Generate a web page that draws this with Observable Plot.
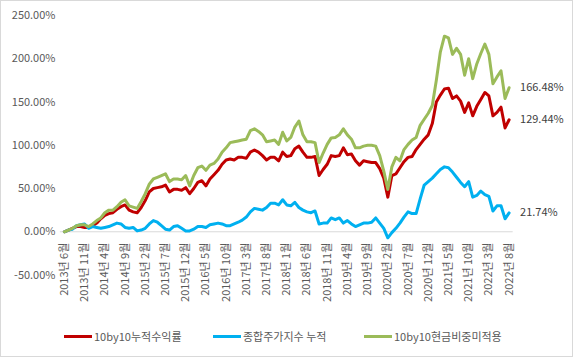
<!DOCTYPE html>
<html>
<head>
<meta charset="utf-8">
<script src="https://cdn.jsdelivr.net/npm/d3@7"></script>
<script src="https://cdn.jsdelivr.net/npm/@observablehq/plot@0.6"></script>
<style>
  body { margin: 0; background: #fff; }
  #chart { position: relative; width: 573px; height: 357px; box-sizing: border-box; border: 1px solid #d9d9d9; font-family: "Noto Sans CJK KR", "Noto Sans", sans-serif; overflow: hidden; }
  #plot { position: absolute; left: -1px; top: -1px; }
  #legend { position: absolute; top: 327px; left: -1px; width: 573px; height: 18px; font-size: 11px; color: #595959; }
  .item { position: absolute; top: 0; display: flex; align-items: center; white-space: nowrap; }
  .sw { display: inline-block; width: 28px; height: 3px; margin-right: 2px; }
</style>
</head>
<body>
<div id="chart">
  <div id="plot"></div>
  <div id="legend"></div>
</div>
<script>
// Series names
const seriesNames = ["10by10누적수익률", "종합주가지수 누적", "10by10현금비중미적용"];
const seriesColors = ["#C00000", "#00B0F0", "#9BBB59"];

// Monthly series, 2013-06 .. 2022-08 (111 months), in percent
const red = [0,2,4,6,6,5,5,7,10,15, 19,21,22,26,29,31,25,23,22,28, 36,46,50,51,52,54,46,49,49,48,
  51,44,50,57,59,53,61,66,71,78, 83,84,83,86,86,85,92,94.5,92,88, 83,86,86,82,92,87,88,96,99,92,
  86,86,87,65,72,78,88,87,88,97, 89,90,82,77,82,81,80,80,73,62, 40,65,67,74,81,86,87,95,101,107,
  112,125,150,158,165,166,154,157,151,138, 149,134,145,153,161,157,134,138,144,120, 129.44];
const blue = [0,2,3,7,8,9,4,6,5,4, 5,6,8,10,9,5,4,5,1,2, 4,9,13,11,7,3,2,6,7,4,
  1,1,3,6,6,5,8,9,10,9, 7,7,9,11,13.5,17,23,27,26,25, 28,33,33,31,37,31,30,34,28,25,
  23,22,24,9,10,10,16,14,16,10, 13,9,6,8,10,10,11,16,10,4, -7,-1,4,10,17,23,21,21,38,54,
  58,62,67,72,75,74,69,63,57,52, 58,40,42,47,43,41,24,30,30,15, 21.74];
const green = [0,2,4,7,8,8,6,9,13,16, 22,25,25,29,34,37,30,28.5,27,35, 44,55,61,63,65,67,58,61,61,60,
  65,53,65,74,76,71,77,79,84,92, 97,103,104,105,106,107,117,119,116,112, 104,105,106,101,115,105,109,121,128,112,
  104,104,103,80,91,101,108.5,109,112,119, 112,107,97,97,99,100,100,99,88,70, 49,75,86,82,95,101,106,109,123,130,
  137,146,175,208,226,224,205,212,205,181, 200,177,194,206,217,205,171,179,186,154, 166.48];

// Tick labels every 5 months
const tickLabels = ["2013년 6월","2013년 11월","2014년 4월","2014년 9월","2015년 2월","2015년 7월","2015년 12월",
  "2016년 5월","2016년 10월","2017년 3월","2017년 8월","2018년 1월","2018년 6월","2018년 11월","2019년 4월",
  "2019년 9월","2020년 2월","2020년 7월","2020년 12월","2021년 5월","2021년 10월","2022년 3월","2022년 8월"];
const yTicks = [-50, 0, 50, 100, 150, 200, 250];

const allSeries = [red, blue, green];
const rows = [];
allSeries.forEach((arr, s) => arr.forEach((v, i) => rows.push({i, v, s: seriesNames[s]})));
const lastRows = allSeries.map((arr, s) => ({i: arr.length - 1, v: arr[arr.length - 1], s: seriesNames[s]}));
const ticks = tickLabels.map((t, k) => ({i: k * 5, t}));

const chart = Plot.plot({
  width: 573,
  height: 357,
  marginLeft: 64,
  marginRight: 63.5,
  marginTop: 15,
  marginBottom: 82,
  style: {fontFamily: '"Noto Sans CJK KR", "Noto Sans", sans-serif', fontSize: "11px", color: "#595959", background: "transparent"},
  x: {type: "linear", domain: [0, red.length - 1], axis: null},
  y: {domain: [-50, 250]},
  color: {domain: seriesNames, range: seriesColors},
  marks: [
    Plot.ruleY([0], {stroke: "#d9d9d9", strokeWidth: 1, x1: -1, x2: red.length}),
    Plot.axisY({ticks: yTicks, tickSize: 0, tickPadding: 9, tickFormat: d => d.toFixed(2) + "%", label: null, fill: "#595959"}),
    Plot.text(ticks, {x: "i", y: () => 0, text: "t", rotate: -90, textAnchor: "end", dy: 11, fill: "#595959", fontSize: 11}),
    Plot.line(rows, {x: "i", y: "v", z: "s", stroke: "s", strokeWidth: 3, strokeLinejoin: "round", strokeLinecap: "round"}),
    Plot.text(lastRows, {x: "i", y: "v", text: d => d.v.toFixed(2) + "%", textAnchor: "start", dx: 11, fill: "#404040", fontSize: 11})
  ]
});
document.getElementById("plot").appendChild(chart);

const legend = document.getElementById("legend");
const legendX = [64, 213, 364];
seriesNames.forEach((n, k) => {
  const it = document.createElement("div");
  it.className = "item";
  it.style.left = legendX[k] + "px";
  const sw = document.createElement("span");
  sw.className = "sw";
  sw.style.background = seriesColors[k];
  it.appendChild(sw);
  it.appendChild(document.createTextNode(n));
  legend.appendChild(it);
});
</script>
</body>
</html>
